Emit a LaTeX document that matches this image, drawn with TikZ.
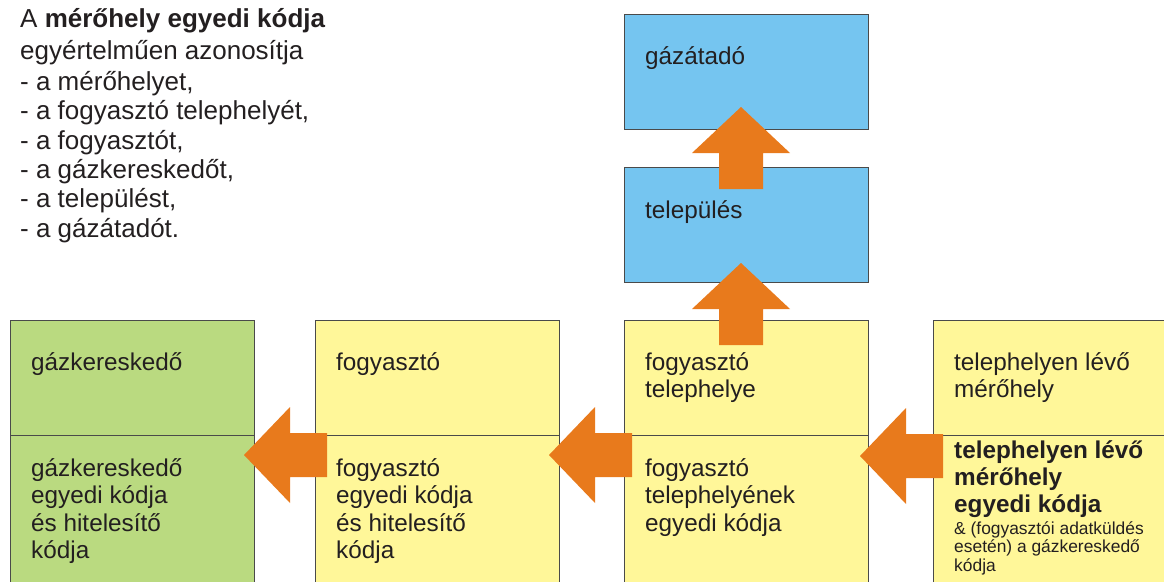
\documentclass[tikz,border=0pt]{standalone}
\usepackage{fontspec}
\setmainfont{Liberation Sans}
\definecolor{cblue}{HTML}{75C5F0}
\definecolor{cyel}{HTML}{FFF799}
\definecolor{cgreen}{HTML}{BADA80}
\definecolor{corange}{HTML}{E87A1C}
\definecolor{cline}{HTML}{4A4A4A}
\definecolor{ctext}{HTML}{231F20}
\newcommand{\mylines}[1]{\begin{tabular}[t]{@{}l@{}}#1\end{tabular}}
\begin{document}
\begin{tikzpicture}[x=1pt,y=-1pt,
  cell/.style={draw=cline,line width=0.9pt,minimum width=244pt,inner sep=0pt,outer sep=0pt},
  head/.style={anchor=base west,inner sep=0pt,text=ctext,font=\fontsize{26}{28.5}\selectfont},
  lbl/.style={anchor=base west,inner sep=0pt,text=ctext,font=\fontsize{24.3}{27.6}\selectfont},
  boldlbl/.style={anchor=base west,inner sep=0pt,text=ctext,font=\fontsize{24.3}{27}\selectfont\bfseries},
  small/.style={anchor=base west,inner sep=0pt,text=ctext,font=\fontsize{17.4}{18.5}\selectfont},
  blockarrow/.style={fill=corange,draw=none}]
\useasboundingbox (0,0) rectangle (1164,581);
% top-left text
\node[head] (t1) at (20,27) {A \textbf{mérőhely egyedi kódja}};
\node[head] (t2) at (20,59) {egyértelműen azonosítja};
\node[head] (t3) at (20,90) {- a mérőhelyet,};
\node[head] (t4) at (20,119.5) {- a fogyasztó telephelyét,};
\node[head] (t5) at (20,149) {- a fogyasztót,};
\node[head] (t6) at (20,178.5) {- a gázkereskedőt,};
\node[head] (t7) at (20,207.5) {- a települést,};
\node[head] (t8) at (20,237) {- a gázátadót.};
% blue boxes
\node[cell,fill=cblue,minimum height=115pt] (gazatado) at (746,71.5) {};
\node[cell,fill=cblue,minimum height=115pt] (telepules) at (746,224.5) {};
\node[lbl] (gazatadoT) at (645,64) {gázátadó};
\node[lbl] (telepulesT) at (645,218) {település};
% bottom row boxes
\node[cell,fill=cgreen,minimum height=115pt] (keresTop) at (132,377.5) {};
\node[cell,fill=cgreen,minimum height=160pt] (keresBot) at (132,515) {};
\node[cell,fill=cyel,minimum height=115pt] (fogyTop) at (437,377.5) {};
\node[cell,fill=cyel,minimum height=160pt] (fogyBot) at (437,515) {};
\node[cell,fill=cyel,minimum height=115pt] (telepTop) at (746,377.5) {};
\node[cell,fill=cyel,minimum height=160pt] (telepBot) at (746,515) {};
\node[cell,fill=cyel,minimum height=115pt] (merTop) at (1055,377.5) {};
\node[cell,fill=cyel,minimum height=160pt] (merBot) at (1055,515) {};
% texts in bottom boxes
\node[lbl] (keresTopT) at (31,370) {gázkereskedő};
\node[lbl] (keresBotT) at (31,476) {\mylines{gázkereskedő\\egyedi kódja\\és hitelesítő\\kódja}};
\node[lbl] (fogyTopT) at (336,370) {fogyasztó};
\node[lbl] (fogyBotT) at (336,476) {\mylines{fogyasztó\\egyedi kódja\\és hitelesítő\\kódja}};
\node[lbl] (telepTopT) at (645,370) {\mylines{fogyasztó\\telephelye}};
\node[lbl] (telepBotT) at (645,476) {\mylines{fogyasztó\\telephelyének\\egyedi kódja}};
\node[lbl] (merTopT) at (954,370) {\mylines{telephelyen lévő\\mérőhely}};
\node[boldlbl] (merBotT) at (954,458) {\mylines{telephelyen lévő\\mérőhely\\egyedi kódja}};
\node[small] (merSmall) at (954,534) {\mylines{\& (fogyasztói adatküldés\\esetén) a gázkereskedő\\kódja}};
% up arrows
\foreach \tx/\ty in {741/107, 741/263}{
  \fill[blockarrow] (\tx,\ty) -- ++(49,46) -- ++(-27,0) -- ++(0,36) -- ++(-44,0) -- ++(0,-36) -- ++(-27,0) -- cycle;
}
% left arrows
\foreach \tx/\ty in {244/455, 549/455, 860/456}{
  \fill[blockarrow] (\tx,\ty) -- ++(46,-48) -- ++(0,26) -- ++(37,0) -- ++(0,44) -- ++(-37,0) -- ++(0,26) -- cycle;
}
\end{tikzpicture}
\end{document}
